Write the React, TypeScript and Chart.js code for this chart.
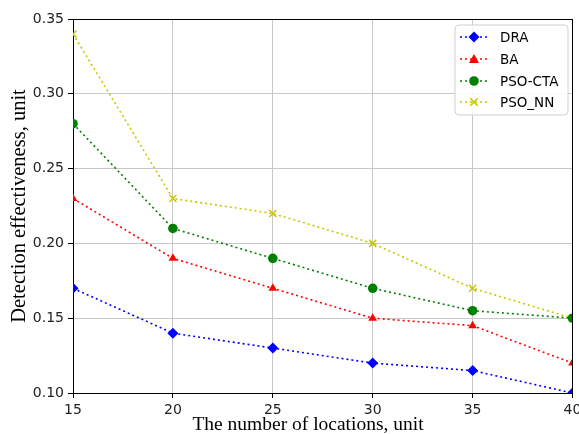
import React, { useEffect, useRef } from "react";
import { Chart, registerables } from "chart.js";

Chart.register(...registerables);

const categories = [15, 20, 25, 30, 35, 40];
const draValues = [0.17, 0.14, 0.13, 0.12, 0.115, 0.1];
const baValues = [0.23, 0.19, 0.17, 0.15, 0.145, 0.12];
const psoCtaValues = [0.28, 0.21, 0.19, 0.17, 0.155, 0.15];
const psoNnValues = [0.34, 0.23, 0.22, 0.2, 0.17, 0.15];
const seriesNames = ["DRA", "BA", "PSO-CTA", "PSO_NN"];
const xTitle = "The number of locations, unit";
const yTitle = "Detection effectiveness, unit";

const colors = ["#0000ff", "#ff0000", "#008000", "#c8c800"];
const styles = ["rectRot", "triangle", "circle", "crossRot"];
const radii = [5.5, 5, 4.8, 5];

function drawPoint(ctx: any, style: string, radius: number, x: number, y: number, color: string) {
  ctx.save();
  ctx.fillStyle = color;
  ctx.strokeStyle = color;
  ctx.lineWidth = 1.5;
  ctx.beginPath();
  if (style === "rectRot") {
    ctx.moveTo(x, y - radius);
    ctx.lineTo(x + radius, y);
    ctx.lineTo(x, y + radius);
    ctx.lineTo(x - radius, y);
    ctx.closePath();
    ctx.fill();
  } else if (style === "triangle") {
    ctx.moveTo(x, y - radius);
    ctx.lineTo(x + radius, y + radius * 0.8);
    ctx.lineTo(x - radius, y + radius * 0.8);
    ctx.closePath();
    ctx.fill();
  } else if (style === "circle") {
    ctx.arc(x, y, radius, 0, Math.PI * 2);
    ctx.fill();
  } else {
    const d = radius * 0.75;
    ctx.moveTo(x - d, y - d);
    ctx.lineTo(x + d, y + d);
    ctx.moveTo(x + d, y - d);
    ctx.lineTo(x - d, y + d);
    ctx.stroke();
  }
  ctx.restore();
}

const framePlugin = {
  id: "frame",
  afterDraw(chart: any) {
    const { ctx, chartArea } = chart;
    ctx.save();
    ctx.strokeStyle = "#000";
    ctx.lineWidth = 1;
    ctx.beginPath();
    ctx.moveTo(chartArea.left, Math.round(chartArea.top) + 0.5);
    ctx.lineTo(chartArea.right, Math.round(chartArea.top) + 0.5);
    ctx.moveTo(Math.round(chartArea.right) - 0.5, chartArea.top);
    ctx.lineTo(Math.round(chartArea.right) - 0.5, chartArea.bottom);
    ctx.stroke();

    // x axis title
    ctx.fillStyle = "#000";
    ctx.font = "19.5px 'Liberation Serif'";
    ctx.textAlign = "center";
    ctx.textBaseline = "middle";
    ctx.fillText(xTitle, 308, 425);

    // legend
    const bx = 455, by = 25, bw = 113, bh = 90, r = 4;
    ctx.fillStyle = "rgba(255,255,255,0.85)";
    ctx.strokeStyle = "#d0d0d0";
    ctx.beginPath();
    ctx.moveTo(bx + r, by);
    ctx.arcTo(bx + bw, by, bx + bw, by + bh, r);
    ctx.arcTo(bx + bw, by + bh, bx, by + bh, r);
    ctx.arcTo(bx, by + bh, bx, by, r);
    ctx.arcTo(bx, by, bx + bw, by, r);
    ctx.closePath();
    ctx.fill();
    ctx.stroke();
    const rowsY = [37, 59, 81, 102];
    chart.data.datasets.forEach((ds: any, i: number) => {
      const y = rowsY[i];
      ctx.strokeStyle = ds.borderColor;
      ctx.lineWidth = 1.6;
      ctx.setLineDash([2, 3]);
      ctx.beginPath();
      ctx.moveTo(460, y);
      ctx.lineTo(490, y);
      ctx.stroke();
      ctx.setLineDash([]);
      drawPoint(ctx, ds.pointStyle, ds.pointRadius, 474, y, ds.borderColor);
      ctx.fillStyle = "#000";
      ctx.font = "13.5px 'DejaVu Sans'";
      ctx.textBaseline = "middle";
      ctx.textAlign = "left";
      ctx.fillText(ds.label, 500, y + 1);
    });
    ctx.restore();
  },
};

export default function App() {
  const ref = useRef<HTMLCanvasElement>(null);
  useEffect(() => {
    if (!ref.current) return;
    const allSeries = [draValues, baValues, psoCtaValues, psoNnValues];
    const chart = new Chart(ref.current, {
      type: "line",
      data: {
        datasets: allSeries.map((vals, i) => ({
          label: seriesNames[i],
          data: categories.map((c, j) => ({ x: c, y: vals[j] })),
          borderColor: colors[i],
          backgroundColor: colors[i],
          borderWidth: 1.6,
          borderDash: [2, 3],
          pointStyle: styles[i] as any,
          pointRadius: radii[i],
          pointBorderWidth: i === 3 ? 1.5 : 0,
          pointBackgroundColor: colors[i],
          pointBorderColor: colors[i],
          tension: 0,
          fill: false,
        })),
      },
      options: {
        animation: false,
        responsive: false,
        layout: { padding: { top: 19, right: 6, left: 0, bottom: 0 } },
        plugins: { legend: { display: false }, tooltip: { enabled: false } },
        scales: {
          x: {
            type: "linear",
            min: 15,
            max: 40,
            ticks: {
              stepSize: 5,
              color: "#222",
              font: { family: "'DejaVu Sans'", size: 14 },
              padding: 4,
              maxRotation: 0,
            },
            grid: { color: "#c8c8c8", tickColor: "#000", tickLength: 5, lineWidth: 1 },
            border: { color: "#000", width: 1 },
            title: { display: false },
            afterFit: (axis: any) => {
              axis.height = 41;
              axis.paddingLeft = 0;
              axis.paddingRight = 0;
            },
          },
          y: {
            type: "linear",
            min: 0.1,
            max: 0.35,
            ticks: {
              stepSize: 0.05,
              color: "#222",
              font: { family: "'DejaVu Sans'", size: 14 },
              padding: 4,
              callback: (v: any) => Number(v).toFixed(2),
            },
            grid: { color: "#c8c8c8", tickColor: "#000", tickLength: 5, lineWidth: 1 },
            border: { color: "#000", width: 1 },
            title: {
              display: true,
              text: yTitle,
              color: "#000",
              font: { family: "'Liberation Serif'", size: 20.5 },
              padding: { top: 7, bottom: 0 },
            },
            afterFit: (axis: any) => {
              axis.width = 73;
              axis.paddingTop = 0;
              axis.paddingBottom = 0;
            },
          },
        },
      },
      plugins: [framePlugin],
    });
    return () => chart.destroy();
  }, []);
  return (
    <div style={{ position: "absolute", left: 0, top: 0, width: 579, height: 434, background: "#fff" }}>
      <canvas ref={ref} width={579} height={434} />
    </div>
  );
}
